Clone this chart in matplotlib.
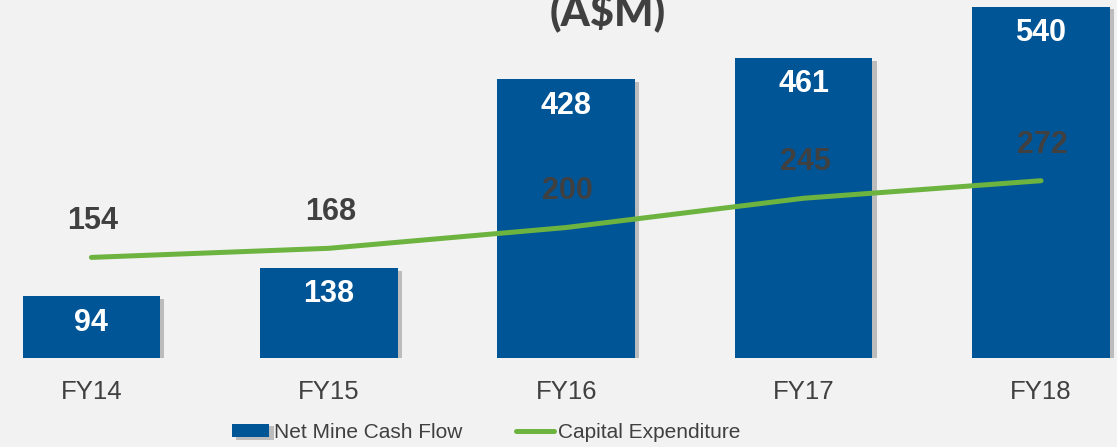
import numpy as np
import matplotlib.pyplot as plt
import matplotlib.patheffects as pe

years = ["FY14", "FY15", "FY16", "FY17", "FY18"]
cash_flow = [94, 138, 428, 461, 540]
capex = [154, 168, 200, 245, 272]

bg = "#f2f2f2"
blue = "#005596"
green = "#6db33f"
grey = "#404040"

plt.rcParams['font.family'] = ['Liberation Sans', 'DejaVu Sans']

fig = plt.figure(figsize=(11.17, 4.47), dpi=100, facecolor=bg)
ax = fig.add_axes([0, 0.2002, 1, 0.7998], facecolor=bg)

x = np.arange(len(years))
bars = ax.bar(x, cash_flow, width=0.58, color=blue, zorder=2,
              label="Net Mine Cash Flow")
for b in bars:
    b.set_path_effects([pe.SimplePatchShadow(offset=(3, -2), shadow_rgbFace="#999999", alpha=0.6),
                        pe.Normal()])
line, = ax.plot(x, capex, color=green, lw=3.6, solid_capstyle="round", zorder=3,
                label="Capital Expenditure")

for xi, v in zip(x, cash_flow):
    ax.annotate(str(v), (xi, v), xytext=(0, -19), textcoords="offset points",
                ha="center", va="center", color="white", fontsize=22, fontweight="bold", zorder=4)
for xi, v in zip(x, capex):
    ax.annotate(str(v), (xi, v), xytext=(1, 26), textcoords="offset points",
                ha="center", va="center", color=grey, fontsize=22, fontweight="bold", zorder=4)

ax.set_xlim(-0.385, 4.32)
ax.set_ylim(0, 550)
ax.set_xticks(x)
ax.set_xticklabels(years, fontsize=18.5, color=grey)
ax.tick_params(axis="x", length=0, pad=16)
ax.set_yticks([])
for s in ax.spines.values():
    s.set_visible(False)

# title is partly cut off at the top, like the original slide
fig.text(608 / 1117, 1 - 25 / 447, "(A$M)", ha="center", va="baseline",
         fontsize=30, fontweight="black", color=grey, family=["Lato", "DejaVu Sans"])

fig.legend([bars, line], ["Net Mine Cash Flow", "Capital Expenditure"],
           loc="center", bbox_to_anchor=(486 / 1117, 1 - 432 / 447), ncol=2, frameon=False,
           prop={"size": 15}, handlelength=1.8, handleheight=0.6,
           handletextpad=0.2, columnspacing=2.6, labelcolor=grey)

fig.savefig("out.png", dpi=100, facecolor=bg)
